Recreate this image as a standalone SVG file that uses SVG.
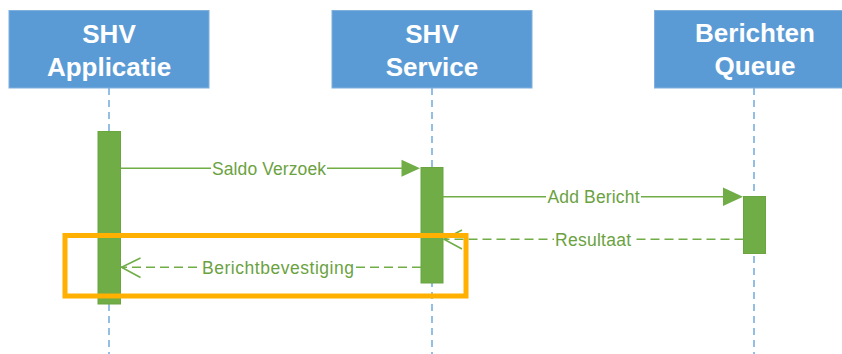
<svg xmlns="http://www.w3.org/2000/svg" width="842" height="354" viewBox="0 0 842 354">
<style>
.hdr{fill:#5B9BD5;stroke:#7FB0DE;stroke-width:1}
.ht{font-family:"Liberation Sans",Arial,sans-serif;font-weight:bold;font-size:26px;fill:#FFFFFF;text-anchor:middle}
.life{stroke:#7AAEDD;stroke-width:1.6;stroke-dasharray:7 5;fill:none}
.act{fill:#70AD47;stroke:#6AA540;stroke-width:1}
.msg{stroke:#70AD47;stroke-width:1.6;fill:none}
.ret{stroke:#70AD47;stroke-width:1.6;fill:none;stroke-dasharray:9 5}
.head{fill:#70AD47;stroke:none}
.open{stroke:#70AD47;stroke-width:1.6;fill:none}
.lbl{font-family:"Liberation Sans",Arial,sans-serif;font-size:17.5px;fill:#6BA23F;text-anchor:middle}
.bg{fill:#FFFFFF}
.hl{fill:none;stroke:#FFB000;stroke-width:5}
</style>
<rect width="842" height="354" fill="#FFFFFF"/>
<g id="lifelines">
<line class="life" x1="109" y1="88" x2="109" y2="354"/>
<line class="life" x1="432" y1="88" x2="432" y2="354"/>
<line class="life" x1="754" y1="88" x2="754" y2="354"/>
</g>
<g id="node-shv-applicatie">
<rect class="hdr" x="9" y="10.5" width="200" height="77.5"/>
<text class="ht" x="109" y="43">SHV</text>
<text class="ht" x="109" y="76">Applicatie</text>
</g>
<g id="node-shv-service">
<rect class="hdr" x="332" y="10.5" width="200" height="77.5"/>
<text class="ht" x="432" y="43">SHV</text>
<text class="ht" x="432" y="76">Service</text>
</g>
<g id="node-berichten-queue">
<rect class="hdr" x="654.5" y="10.5" width="200" height="77.5"/>
<text class="ht" x="755" y="42">Berichten</text>
<text class="ht" x="755" y="75">Queue</text>
</g>
<g id="activations">
<rect class="act" x="98" y="131.5" width="22.5" height="172.5"/>
<rect class="act" x="421" y="167.5" width="22" height="115.5"/>
<rect class="act" x="743.5" y="196.5" width="22" height="57"/>
</g>
<g id="connectors">
<line class="msg" x1="120.5" y1="168.3" x2="404" y2="168.3"/>
<polygon class="head" points="420,168.3 401.5,159.8 401.5,176.8"/>
<rect class="bg" x="211" y="158" width="116" height="20"/>
<text class="lbl" x="269" y="174.5" textLength="114">Saldo Verzoek</text>

<line class="msg" x1="443" y1="196.7" x2="726" y2="196.7"/>
<polygon class="head" points="743,196.7 723,187.5 723,205.9"/>
<rect class="bg" x="546" y="186" width="95" height="20"/>
<text class="lbl" x="593.5" y="203" textLength="92">Add Bericht</text>

<line class="ret" x1="743.5" y1="239.3" x2="444" y2="239.3"/>
<polyline class="open" points="462,230 444,239.3 462,249"/>
<rect class="bg" x="554" y="229" width="78" height="20"/>
<text class="lbl" x="593" y="245.5" textLength="76">Resultaat</text>

<line class="ret" x1="421" y1="267.3" x2="121" y2="267.3"/>
<polyline class="open" points="140.5,258 121.5,267.3 140.5,277.5"/>
<rect class="bg" x="201" y="257" width="154" height="20"/>
<text class="lbl" x="278" y="273.5" textLength="152">Berichtbevestiging</text>
</g>
<g id="highlight">
<rect class="hl" x="65" y="235.5" width="401" height="60.5"/>
</g>
</svg>
